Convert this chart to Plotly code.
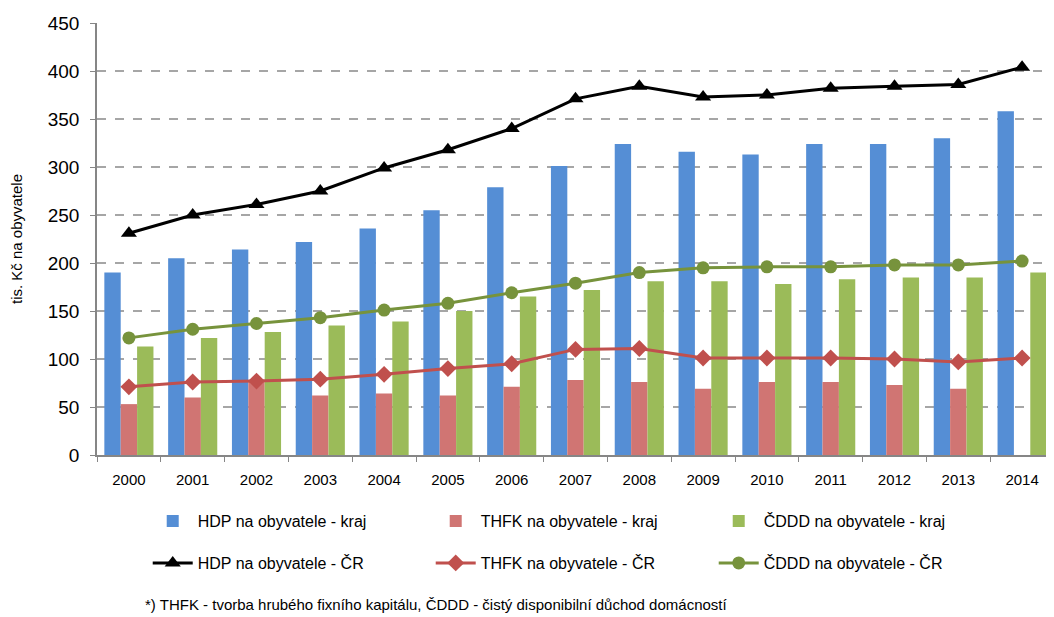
import plotly.graph_objects as go

years = [str(y) for y in range(2000, 2015)]
hdp_kraj = [190, 205, 214, 222, 236, 255, 279, 301, 324, 316, 313, 324, 324, 330, 358]
thfk_kraj = [53, 60, 77, 62, 64, 62, 71, 78, 76, 69, 76, 76, 73, 69, None]
cddd_kraj = [113, 122, 128, 135, 139, 150, 165, 172, 181, 181, 178, 183, 185, 185, 190]
hdp_cr = [231, 250, 261, 275, 299, 318, 340, 371, 384, 373, 375, 382, 384, 386, 404]
thfk_cr = [71, 76, 77, 79, 84, 90, 95, 110, 111, 101, 101, 101, 100, 97, 101]
cddd_cr = [122, 131, 137, 143, 151, 158, 169, 179, 190, 195, 196, 196, 198, 198, 202]

font = "Liberation Sans, Arial, sans-serif"

fig = go.Figure()
fig.add_trace(go.Bar(x=years, y=hdp_kraj, name="HDP na obyvatele - kraj",
                     marker=dict(color="#558ED5", line=dict(width=0)), legend="legend"))
fig.add_trace(go.Bar(x=years, y=thfk_kraj, name="THFK na obyvatele - kraj",
                     marker=dict(color="#D07573", line=dict(width=0)), legend="legend"))
fig.add_trace(go.Bar(x=years, y=cddd_kraj, name="ČDDD na obyvatele - kraj",
                     marker=dict(color="#9BBB59", line=dict(width=0)), legend="legend"))
fig.add_trace(go.Scatter(x=years, y=hdp_cr, name="HDP na obyvatele - ČR", mode="lines+markers",
                         line=dict(color="black", width=3),
                         marker=dict(symbol="triangle-up", size=14, color="black"), legend="legend2"))
fig.add_trace(go.Scatter(x=years, y=thfk_cr, name="THFK na obyvatele - ČR", mode="lines+markers",
                         line=dict(color="#C0504D", width=3),
                         marker=dict(symbol="diamond", size=13, color="#C0504D"), legend="legend2"))
fig.add_trace(go.Scatter(x=years, y=cddd_cr, name="ČDDD na obyvatele - ČR", mode="lines+markers",
                         line=dict(color="#77933C", width=3),
                         marker=dict(symbol="circle", size=13, color="#77933C"), legend="legend2"))

legend_common = dict(orientation="h", xanchor="left", yanchor="middle",
                     entrywidth=228, entrywidthmode="pixels", itemwidth=40,
                     font=dict(family=font, size=16, color="black"),
                     bgcolor="rgba(0,0,0,0)", traceorder="normal")

fig.update_layout(
    width=1046, height=609,
    margin=dict(l=89, r=0, t=15, b=162),
    paper_bgcolor="white", plot_bgcolor="white",
    barmode="group", bargap=0.23, bargroupgap=0,
    font=dict(family=font, color="black"),
    showlegend=True,
    legend=dict(x=0.053, y=-0.153, **legend_common),
    legend2=dict(x=0.053, y=-0.25, **legend_common),
    xaxis=dict(type="category", range=[-0.5, 14.5],
               showline=True, linecolor="#868686", linewidth=1.5,
               ticks="outside", tickson="boundaries", ticklen=5, tickcolor="#868686",
               tickfont=dict(family=font, size=15, color="black"),
               ticklabelstandoff=10,
               showgrid=False),
    yaxis=dict(range=[0, 450], dtick=50,
               showline=True, linecolor="#868686", linewidth=1.5,
               ticks="outside", ticklen=5, tickcolor="#868686",
               tickfont=dict(family=font, size=19, color="black"),
               ticklabelstandoff=7,
               showgrid=True, gridcolor="#A6A6A6", gridwidth=1.5, griddash="dash",
               zeroline=False,
               title=dict(text="tis. Kč na obyvatele", font=dict(family=font, size=15, color="black"),
                          standoff=26)),
    annotations=[dict(text="*) THFK - tvorba hrubého fixního kapitálu, ČDDD - čistý disponibilní důchod domácností",
                      xref="paper", yref="paper", x=0.048, y=-0.347, xanchor="left", yanchor="middle",
                      showarrow=False, font=dict(family=font, size=15, color="black"))],
)

fig.write_html("out.html")
